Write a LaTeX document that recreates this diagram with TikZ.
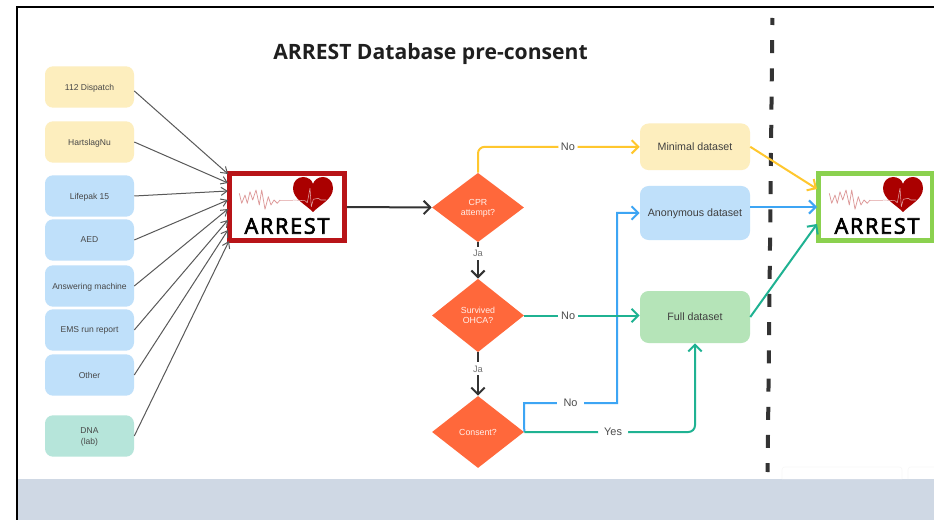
\documentclass[tikz,border=0pt]{standalone}
\usepackage{fontspec}
\usetikzlibrary{shapes.geometric,arrows.meta}
\setmainfont{Liberation Sans}
\newfontfamily\titlefont{Open Sans}
\newfontfamily\logofont[LetterSpace=8,FakeBold=3]{Open Sans}
\definecolor{cYelBox}{HTML}{FDEEBE}
\definecolor{cBluBox}{HTML}{BFE0FA}
\definecolor{cTealBox}{HTML}{B6E5DA}
\definecolor{cGrnBox}{HTML}{B5E4B8}
\definecolor{cDia}{HTML}{FF683B}
\definecolor{cYel}{HTML}{FFC72E}
\definecolor{cBlu}{HTML}{3DA5F4}
\definecolor{cTeal}{HTML}{1FB292}
\definecolor{cRed}{HTML}{B81418}
\definecolor{cLime}{HTML}{8BD14F}
\definecolor{cHeart}{HTML}{AA0000}
\definecolor{cBand}{HTML}{CFD8E4}
\definecolor{cInk}{HTML}{333333}
\tikzset{
  srcbox/.style={rounded corners=6pt,inner sep=0pt,minimum width=66.75pt,align=center,text depth=0pt,
    text=black!72,font=\fontsize{6.4}{8.2}\selectfont},
  databox/.style={rounded corners=6.5pt,inner sep=0pt,minimum width=82.5pt,align=center,text depth=0pt,
    text=black!75,font=\fontsize{8}{10}\selectfont},
  decision/.style={diamond,fill=cDia,inner sep=0pt,minimum width=69pt,align=center,text depth=0pt,
    text=white!90!cDia,font=\fontsize{6.6}{7.8}\selectfont},
  lab/.style={fill=white,inner xsep=2pt,inner ysep=1.6pt,text=black!70,font=\fontsize{8.2}{10}\selectfont},
  widelab/.style={lab,inner xsep=4.6pt},
  jalab/.style={fill=white,inner xsep=1.2pt,inner ysep=2.4pt,text=black!55,font=\fontsize{7}{8}\selectfont},
  fan/.style={draw=black!65,line width=.75pt,-{Straight Barb[length=4.5pt,width=6pt]}},
  flow/.style={line width=1.5pt,-{Straight Barb[length=5pt,width=10pt]}},
  logoframe/.style={draw=#1,fill=white,line width=3.9pt,inner sep=0pt,minimum width=86pt,minimum height=50.5pt},
}
\newcommand{\arrestlogo}[3]{%
  \begin{scope}[shift={(#2,#3)}]
    \draw[cHeart!25,line width=.35pt] (53,29) -- (66,29);
    \draw[cHeart!40!white,line width=.55pt,line join=round] (12.3,22.3) -- (14.7,32.3) -- (18,24) -- (20.3,32.3)
      -- (23,20.7) -- (25.7,29) -- (29,19) -- (32.3,34) -- (34.7,19) -- (38,38.3) -- (41.3,25.7)
      -- (44,34) -- (47,29) -- (50.3,32.3) -- (53,29);
    \fill[cHeart] (86,41) .. controls (78,33) and (66,28) .. (66,17)
      .. controls (66,10) and (71,6) .. (76,6) .. controls (81,6) and (85,9) .. (86,13)
      .. controls (87,9) and (91,6) .. (96,6) .. controls (101,6) and (106,10) .. (106,17)
      .. controls (106,28) and (94,33) .. (86,41) -- cycle;
    \draw[white!65!cHeart,line width=.4pt,line join=round] (66.3,29) -- (78,29.7) -- (80.3,31.7) -- (83,17.3)
      -- (84.3,35.7) -- (86.3,28.3) -- (91.3,27.3) -- (93.7,29) -- (99,29);
    \node[inner sep=0pt,text=black,font=\logofont\fontsize{16.2}{17}\selectfont] (#1) at (60,55) {ARREST};
  \end{scope}}
\begin{document}
\begin{tikzpicture}[x=.75pt,y=-.75pt]
\useasboundingbox (0,0) rectangle (934,520);
\fill[white] (0,0) rectangle (934,520);

% frame, band
\fill[cBand] (18,479) rectangle (934,520);
\fill[black] (16,5.7) rectangle (934,7.9);
\fill[black] (16,5.7) rectangle (18.4,520);

% faint covering cards
\draw[black!3,fill=white,rounded corners=2pt] (782,479) -- (782,467) -- (902,467) -- (902,479);
\draw[black!3,fill=white,rounded corners=2pt] (908,479) -- (908,467) -- (934,467);

% title
\node[inner sep=0pt,text=black!88,font=\titlefont\bfseries\fontsize{15.85}{18}\selectfont] (title) at (430.5,54) {ARREST Database pre-consent};

% separator
\coordinate (sepA) at (772.4,18);
\coordinate (sepB) at (767.6,472);
\draw[cInk,line width=3pt,dash pattern=on 9.75pt off 11.4pt,dash phase=4.5pt] (sepA) -- (sepB);

% sources
\node[srcbox,fill=cYelBox,minimum height=31pt] (s1) at (89.5,87) {112 Dispatch};
\node[srcbox,fill=cYelBox,minimum height=31pt] (s2) at (89.5,142) {HartslagNu};
\node[srcbox,fill=cBluBox,minimum height=31pt] (s3) at (89.5,196) {Lifepak 15};
\node[srcbox,fill=cBluBox,minimum height=31pt] (s4) at (89.5,240) {AED};
\node[srcbox,fill=cBluBox,minimum height=31pt] (s5) at (89.5,286) {Answering machine};
\node[srcbox,fill=cBluBox,minimum height=31pt] (s6) at (89.5,330) {EMS run report};
\node[srcbox,fill=cBluBox,minimum height=31pt] (s7) at (89.5,375) {Other};
\node[srcbox,fill=cTealBox,minimum height=31pt] (s8) at (89.5,436) {DNA\\(lab)};

% logos
\node[logoframe=cRed] (arrest) at (287,207) {};
\arrestlogo{arrestA}{227}{171}
\node[logoframe=cLime] (arrestB) at (875.5,207) {};
\arrestlogo{arrestC}{817}{171}

% fan-in
\coordinate (p1) at (228,174);
\coordinate (p2) at (228,183);
\coordinate (p3) at (228,191);
\coordinate (p4) at (228,200);
\coordinate (p5) at (228,209);
\coordinate (p6) at (228,220);
\coordinate (p7) at (228,230);
\coordinate (p8) at (229,241);
\draw[fan] (s1.-5) -- (p1);
\draw[fan] (s2.east) -- (p2);
\draw[fan] (s3.east) -- (p3);
\draw[fan] (s4.east) -- (p4);
\draw[fan] (s5.east) -- (p5);
\draw[fan] (s6.east) -- (p6);
\draw[fan] (s7.east) -- (p7);
\draw[fan] (s8.east) -- (p8);

% decisions
\node[decision,minimum height=52pt] (d1) at (478,207.5) {CPR\\attempt?};
\node[decision,minimum height=55pt] (d2) at (478,315.5) {Survived\\OHCA?};
\node[decision,minimum height=54pt] (d3) at (478,432) {Consent?};

% datasets
\node[databox,fill=cYelBox,minimum height=35pt] (m) at (695,146.8) {Minimal dataset};
\node[databox,fill=cBluBox,minimum height=40.5pt] (an) at (695,213) {Anonymous dataset};
\node[databox,fill=cGrnBox,minimum height=39pt] (fu) at (695,317) {Full dataset};

% flow
\draw[flow,cInk] (arrest.east) -- (d1.west);
\draw[flow,cInk] (d1.south) -- node[jalab,pos=.3] (ja1) {Ja} (d2.north);
\draw[flow,cInk] (d2.south) -- node[jalab,pos=.38] (ja2) {Ja} (d3.north);
\draw[flow,cYel,rounded corners=5pt] (d1.north) |- node[lab,pos=.778] (no1) {No} (m.west);
\coordinate (b1) at (524,403);
\coordinate (b2) at (617,403);
\coordinate (b3) at (617,213);
\draw[flow,cBlu] (d3.east) -- (b1) -- node[widelab] (no3) {No} (b2) -- (b3) -- (an.west);
\draw[flow,cTeal] (d2.east) -- node[lab,pos=.38] (no2) {No} (d2.east -| fu.west);
\draw[flow,cTeal,rounded corners=5pt] (d3.east) -| node[widelab,pos=.26] (yes) {Yes} (fu.south);

% to the final database
\coordinate (q1) at (817,189);
\coordinate (q2) at (817,207);
\coordinate (q3) at (817,224);
\draw[flow,cYel] (m.east) -- (q1);
\draw[flow,cBlu] (an.east |- q2) -- (q2);
\draw[flow,cTeal] (fu.east) -- (q3);
\end{tikzpicture}
\end{document}
